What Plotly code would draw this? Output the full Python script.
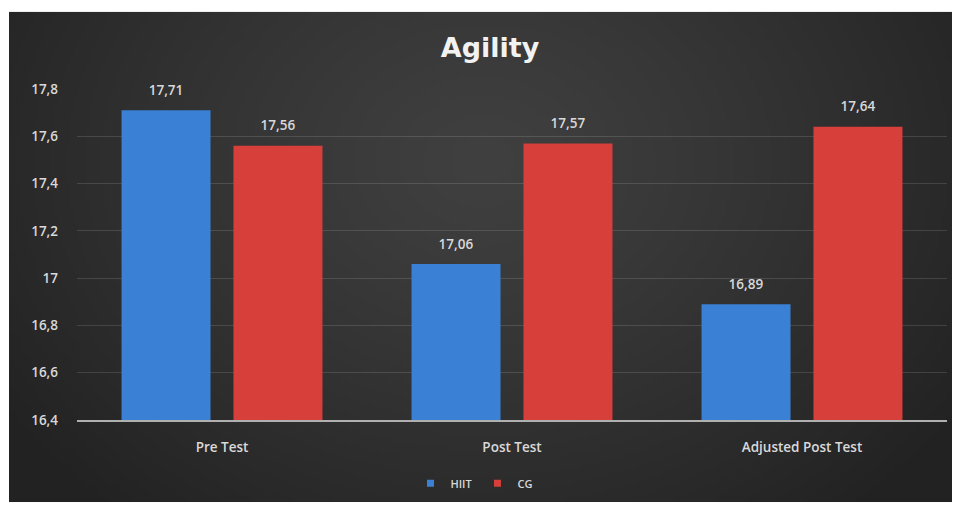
import base64
import struct
import zlib

import numpy as np
import plotly.graph_objects as go

# ---- data ----
categories = ["Pre Test", "Post Test", "Adjusted Post Test"]
hiit_values = [17.71, 17.06, 16.89]
cg_values = [17.56, 17.57, 17.64]
y_ticks = [16.4, 16.6, 16.8, 17.0, 17.2, 17.4, 17.6, 17.8]
series_names = ["HIIT", "CG"]
series_colors = ["#3a80d4", "#d63f3a"]

# ---- canvas geometry (pixels) ----
W, H = 960, 510
M_L, M_R, M_T, M_B = 77, 13, 89, 86
PLOT_W = W - M_L - M_R
PLOT_H = H - M_T - M_B


def px_to_paper_x(px):
    return (px - M_L) / PLOT_W


def px_to_paper_y(py):
    return (H - M_B - py) / PLOT_H


def gradient_png(width, height):
    """Dark radial gradient, lighter near the upper centre."""
    yy, xx = np.mgrid[0:height, 0:width]
    cx, cy = width * 0.5, height * 0.30
    d = np.sqrt(((xx - cx) / (width * 0.62)) ** 2 + ((yy - cy) / (height * 0.95)) ** 2)
    d = np.clip(d, 0, 1)
    inner, outer = 64.0, 34.0
    v = inner + (outer - inner) * d ** 1.2
    img = np.stack([v, v, v], axis=-1).astype(np.uint8)
    raw = b"".join(b"\x00" + img[r].tobytes() for r in range(height))

    def chunk(tag, data):
        c = struct.pack(">I", len(data)) + tag + data
        return c + struct.pack(">I", zlib.crc32(tag + data) & 0xFFFFFFFF)

    png = b"\x89PNG\r\n\x1a\n"
    png += chunk(b"IHDR", struct.pack(">IIBBBBB", width, height, 8, 2, 0, 0, 0))
    png += chunk(b"IDAT", zlib.compress(raw, 9))
    png += chunk(b"IEND", b"")
    return "data:image/png;base64," + base64.b64encode(png).decode()


FONT = "Open Sans, Lato, sans-serif"
label_font = dict(family=FONT, size=13.5, color="#d9d9d9", weight=600)
# value label with a small spacer line below it to lift it off the bar
value_tmpl = "<span style='font-size:13.5px'>%{y:.2f}</span><br> "
value_font = dict(family=FONT, size=8, color="#d9d9d9", weight=600)

fig = go.Figure()
for name, vals, col in zip(series_names, [hiit_values, cg_values], series_colors):
    fig.add_trace(go.Bar(
        name=name, x=categories, y=vals,
        marker=dict(color=col, line=dict(width=0)),
        texttemplate=value_tmpl, textposition="outside",
        textfont=value_font, cliponaxis=False, showlegend=False,
    ))
# compact legend keys
for name, col in zip(series_names, series_colors):
    fig.add_trace(go.Scatter(
        name=name, x=[None], y=[None], mode="markers",
        marker=dict(symbol="square", size=7, color=col),
    ))

# dark chart panel inside the white border
bx0, bx1, by0, by1 = 9, 952, 11, 507
fig.add_layout_image(dict(
    source=gradient_png(240, 126),
    xref="paper", yref="paper",
    x=px_to_paper_x(bx0), y=px_to_paper_y(by0),
    sizex=px_to_paper_x(bx1) - px_to_paper_x(bx0),
    sizey=px_to_paper_y(by0) - px_to_paper_y(by1),
    xanchor="left", yanchor="top",
    sizing="stretch", layer="below",
))

fig.update_layout(
    width=W, height=H,
    margin=dict(l=M_L, r=M_R, t=M_T, b=M_B, pad=0),
    paper_bgcolor="white",
    plot_bgcolor="rgba(0,0,0,0)",
    separators=", ",
    barmode="group",
    bargap=0.228,
    bargroupgap=0.205,
    title=dict(
        text="<b>Agility</b>",
        x=px_to_paper_x(490), xref="paper", xanchor="center",
        y=1 - 48 / H, yanchor="middle",
        font=dict(family="DejaVu Sans", size=27, color="#f2f2f2"),
    ),
    xaxis=dict(
        showgrid=False, ticks="",
        showline=True, linecolor="#b0b0b0", linewidth=2,
        ticklabelstandoff=14,
        tickfont=label_font,
    ),
    yaxis=dict(
        range=[16.4, 17.8],
        tickvals=y_ticks,
        ticktext=[("%.1f" % v).replace(".", ",").replace(",0", "") for v in y_ticks],
        showgrid=True, gridcolor="rgba(255,255,255,0.13)", gridwidth=1,
        zeroline=False, showline=False, ticks="",
        ticklabelstandoff=18,
        tickfont=label_font,
    ),
    legend=dict(
        orientation="h",
        x=px_to_paper_x(474), xanchor="center",
        y=px_to_paper_y(488), yanchor="middle",
        font=dict(family=FONT, size=11, color="#d9d9d9", weight=600),
        itemwidth=30, bgcolor="rgba(0,0,0,0)",
    ),
    showlegend=True,
)

fig.write_html("out.html")
